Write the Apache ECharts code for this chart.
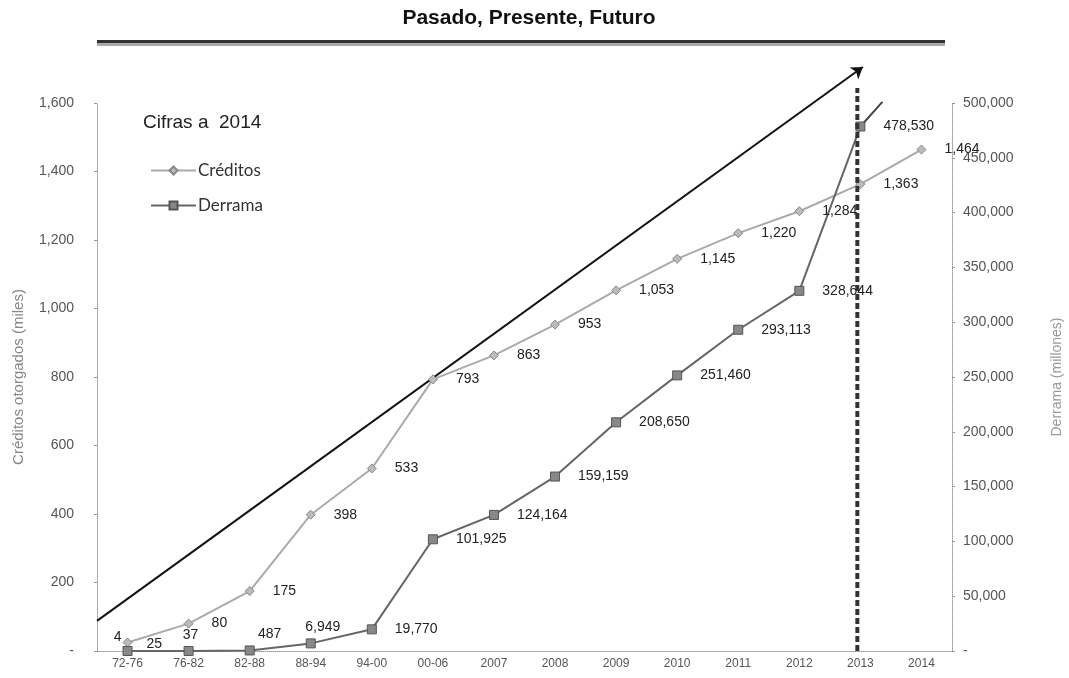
<!DOCTYPE html>
<html>
<head>
<meta charset="utf-8">
<script src="https://cdn.jsdelivr.net/npm/echarts@6/dist/echarts.min.js"></script>
<style>
html,body{margin:0;padding:0;background:#fff;}
#chart{width:1069px;height:678px;}
</style>
</head>
<body>
<div id="chart"></div>
<script>
// ---- data ----
const categories = ['72-76','76-82','82-88','88-94','94-00','00-06','2007','2008','2009','2010','2011','2012','2013','2014'];
const creditos = [25, 80, 175, 398, 533, 793, 863, 953, 1053, 1145, 1220, 1284, 1363, 1464];
const derrama = [4, 37, 487, 6949, 19770, 101925, 124164, 159159, 208650, 251460, 293113, 328644, 478530];
const leftTicks = [0, 200, 400, 600, 800, 1000, 1200, 1400, 1600];
const rightTicks = [0, 50000, 100000, 150000, 200000, 250000, 300000, 350000, 400000, 450000, 500000];
// decorative trend arrow (x in category-index units, y in left-axis units)
const trendArrow = [[-0.5, 88], [12.04, 1705]];
// Derrama extension after 2013 (right-axis units)
const derramaExt = [[12, 478530], [12.36, 501000]];
// vertical dashed marker at 2013
const markerLine = [[11.95, 0], [11.95, 1644]];

// ---- label placement (style only) ----
const credLabelStyle = {0: {offset: [-4, 2]}};
const derrLabelStyle = {
  0: {position: 'top', distance: 2, offset: [-10, 0]},
  1: {position: 'top', distance: 4, offset: [2, 0]},
  2: {position: 'top', distance: 4, offset: [20, 0]},
  3: {position: 'top', distance: 4, offset: [12, 0]}
};

const fmt = v => Number(v).toLocaleString('en-US');
const labelFont = {fontFamily: 'Liberation Sans, Arial, sans-serif', fontSize: 14, color: '#222'};

const chart = echarts.init(document.getElementById('chart'));
chart.setOption({
  animation: false,
  backgroundColor: '#fff',
  title: {
    text: 'Pasado, Presente, Futuro',
    left: 524, top: 3, textAlign: 'center',
    textStyle: {fontFamily: 'Liberation Sans, Arial, sans-serif', fontSize: 21, fontWeight: 'bold', color: '#111'}
  },
  graphic: [
    {type: 'rect', shape: {x: 97, y: 40, width: 848, height: 3}, style: {fill: '#333'}},
    {type: 'rect', shape: {x: 97, y: 43, width: 848, height: 3}, style: {fill: '#aaa'}},
    {type: 'text', left: 143, top: 113, style: {text: 'Cifras a  2014', fontFamily: 'Liberation Sans, Arial, sans-serif', fontSize: 19, fill: '#222'}}
  ],
  legend: {
    data: ['Créditos', 'Derrama'],
    orient: 'vertical', left: 145, top: 157, itemGap: 18,
    itemWidth: 45, itemHeight: 10,
    textStyle: {fontFamily: 'Lato, Open Sans, sans-serif', fontSize: 17, color: '#333', padding: [0, 0, 0, -3]}
  },
  grid: {left: 97, right: 117, top: 103, bottom: 27, containLabel: false, outerBoundsMode: 'none'},
  xAxis: [
    {
      type: 'category', data: categories, boundaryGap: true,
      axisLine: {onZero: false, lineStyle: {color: '#999', type: 'dotted', width: 1}},
      axisTick: {show: false},
      axisLabel: {margin: 7, fontFamily: 'Liberation Sans, Arial, sans-serif', fontSize: 12, color: '#555'}
    },
    {type: 'value', min: -0.5, max: 13.5, show: false, axisLine: {onZero: false}}
  ],
  yAxis: [
    {
      type: 'value', min: 0, max: 1600, interval: 200,
      name: 'Créditos otorgados (miles)', nameLocation: 'middle', nameGap: 71, nameRotate: 90,
      nameTextStyle: {fontFamily: 'Liberation Sans, Arial, sans-serif', fontSize: 15, color: '#888'},
      axisLine: {show: true, onZero: false, lineStyle: {color: '#999', type: 'dotted'}},
      axisTick: {show: true, length: 3, lineStyle: {color: '#999'}},
      splitLine: {show: false},
      axisLabel: {margin: 23, fontFamily: 'Liberation Sans, Arial, sans-serif', fontSize: 14, color: '#555',
        formatter: v => (v === 0 ? '-' : fmt(v))}
    },
    {
      type: 'value', min: 0, max: 500000, interval: 50000, position: 'right',
      name: 'Derrama (millones)', nameLocation: 'middle', nameGap: 98, nameRotate: 90,
      nameTextStyle: {fontFamily: 'Liberation Sans, Arial, sans-serif', fontSize: 14, color: '#999'},
      axisLine: {show: true, onZero: false, lineStyle: {color: '#999', type: 'dotted'}},
      axisTick: {show: true, length: 3, lineStyle: {color: '#999'}},
      splitLine: {show: false},
      axisLabel: {margin: 11, fontFamily: 'Liberation Sans, Arial, sans-serif', fontSize: 14, color: '#555',
        formatter: v => (v === 0 ? '-' : fmt(v))}
    }
  ],
  series: [
    {
      name: 'Créditos', type: 'line', xAxisIndex: 0, yAxisIndex: 0,
      data: creditos.map((v, i) => ({value: v, label: credLabelStyle[i] || {}})),
      symbol: 'diamond', symbolSize: 9,
      lineStyle: {color: '#aaa', width: 2},
      itemStyle: {color: '#bbb', borderColor: '#888', borderWidth: 1},
      label: Object.assign({show: true, position: 'right', distance: 18, formatter: p => fmt(p.value)}, labelFont),
      z: 3
    },
    {
      name: 'Derrama', type: 'line', xAxisIndex: 0, yAxisIndex: 1,
      data: derrama.map((v, i) => ({value: v, label: derrLabelStyle[i] || {}})),
      symbol: 'rect', symbolSize: 9,
      lineStyle: {color: '#666', width: 2},
      itemStyle: {color: '#888', borderColor: '#555', borderWidth: 1},
      label: Object.assign({show: true, position: 'right', distance: 18, formatter: p => fmt(p.value)}, labelFont),
      z: 3
    },
    {
      type: 'line', xAxisIndex: 1, yAxisIndex: 1, data: derramaExt,
      symbol: 'none', clip: false, silent: true,
      lineStyle: {color: '#444', width: 2}, z: 2
    },
    {
      type: 'lines', coordinateSystem: 'cartesian2d', xAxisIndex: 1, yAxisIndex: 0,
      data: [{coords: trendArrow}], clip: false, silent: true,
      symbol: ['none', 'arrow'], symbolSize: 11,
      lineStyle: {color: '#111', width: 2, opacity: 1}, z: 2
    },
    {
      type: 'line', xAxisIndex: 1, yAxisIndex: 0, data: markerLine,
      symbol: 'none', clip: false, silent: true,
      lineStyle: {color: '#333', width: 4, type: [6, 3]}, z: 4
    }
  ]
});
</script>
</body>
</html>
